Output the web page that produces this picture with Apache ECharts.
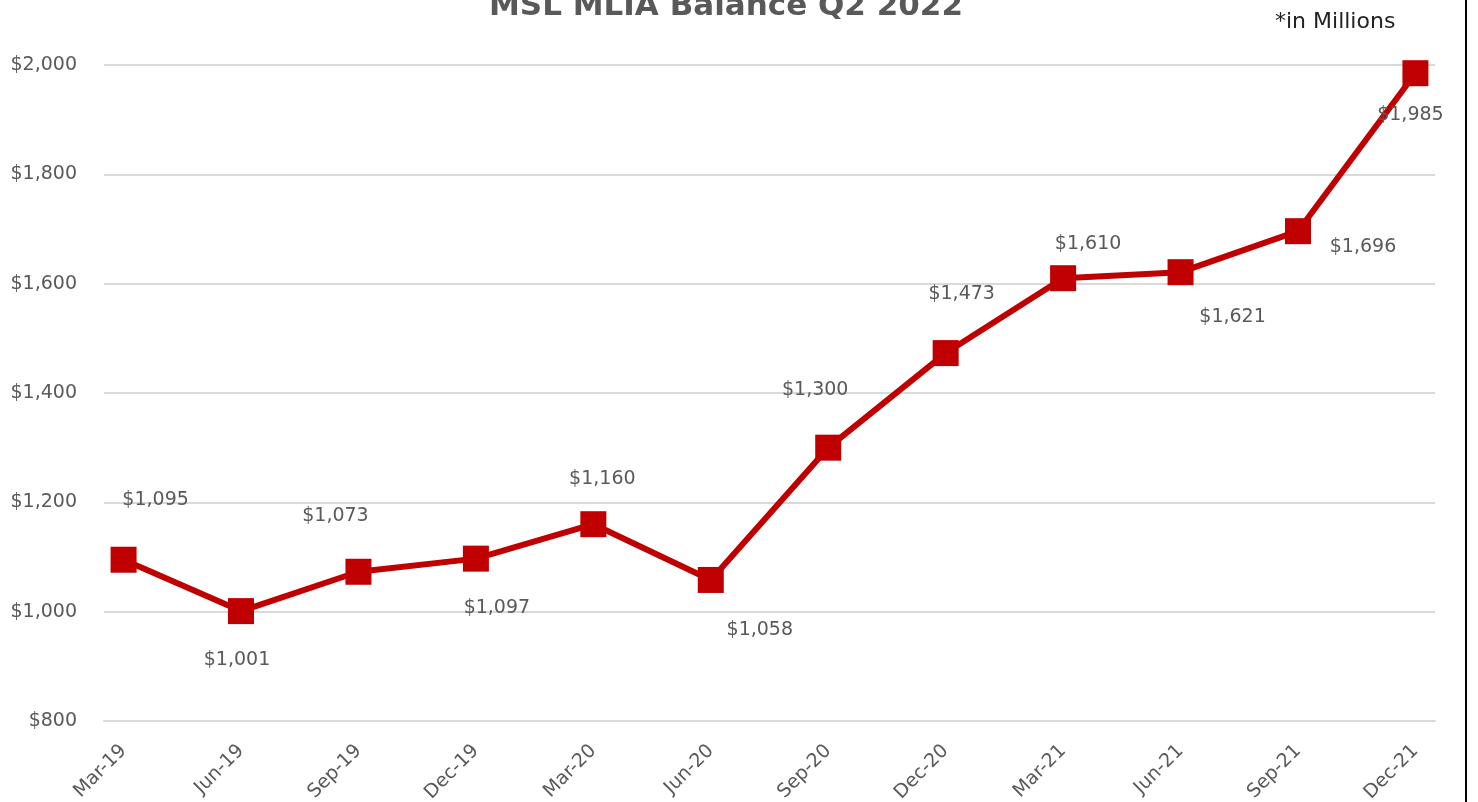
<!DOCTYPE html>
<html>
<head>
<meta charset="utf-8">
<title>MSL MLIA Balance Q2 2022</title>
<script src="https://cdn.jsdelivr.net/npm/echarts@6/dist/echarts.min.js"></script>
<style>
    html, body { margin: 0; padding: 0; background: #fff; }
    #chart { width: 1478px; height: 802px; }
</style>
</head>
<body>
<div id="chart"></div>
<script>
// ---- data (quarter end balances, $ millions)
const quarters = ['Mar-19', 'Jun-19', 'Sep-19', 'Dec-19', 'Mar-20', 'Jun-20',
    'Sep-20', 'Dec-20', 'Mar-21', 'Jun-21', 'Sep-21', 'Dec-21'];
const balance = [1095, 1001, 1073, 1097, 1160, 1058, 1300, 1473, 1610, 1621, 1696, 1985];
const yTicks = [800, 1000, 1200, 1400, 1600, 1800, 2000];

// label nudges (px from the marker), placed by hand like the excel chart
const labelShift = [[32, -60], [-4, 49], [-23, -56], [21, 49], [9, -45], [49, 50],
    [-13, -58], [16, -59], [25, -34], [52, 45], [65, 16], [-5, 42]];

// monthly axis: a quarter label every 3rd month, blanks between
let months = [];
quarters.forEach(function (q, i) {
    months.push(q);
    if (i < quarters.length - 1) {
        months.push('');
        months.push('');
    }
});

function money(v) {
    return '$' + Number(v).toLocaleString('en-US');
}

const gridBox = { left: 104, right: 43, top: 65, bottom: 81, outerBoundsMode: 'none' };
const grey = '#595959';
const font = 'DejaVu Sans';

var chart = echarts.init(document.getElementById('chart'));
option = {
    animation: false,
    title: [{
        text: 'MSL MLIA Balance Q2 2022',
        left: 484,
        top: -14,
        textStyle: { fontFamily: font, fontSize: 31, fontWeight: 'bold', color: grey }
    }, {
        text: '*in Millions',
        left: 1270,
        top: 6,
        textStyle: { fontFamily: font, fontSize: 22, fontWeight: 'normal', color: '#222' }
    }],
    grid: [
        Object.assign({}, gridBox),
        Object.assign({}, gridBox)
    ],
    xAxis: [{
        type: 'category',
        gridIndex: 0,
        data: months,
        boundaryGap: true,
        axisLine: { lineStyle: { color: '#d9d9d9', width: 2 } },
        axisTick: { interval: 0, inside: true, length: 4, lineStyle: { color: '#d9d9d9', width: 2 } },
        axisLabel: {
            interval: function (i) { return i % 3 === 0; },
            rotate: 45,
            margin: 27,
            color: grey,
            fontFamily: font,
            fontSize: 19
        },
        splitLine: { show: false }
    }, {
        // major ticks every quarter
        type: 'category',
        gridIndex: 1,
        data: months,
        boundaryGap: true,
        axisLine: { show: false },
        axisTick: {
            interval: function (i) { return i % 3 === 0; },
            inside: true, length: 9,
            lineStyle: { color: '#d9d9d9', width: 2 }
        },
        axisLabel: { show: false }
    }],
    yAxis: [{
        type: 'value',
        gridIndex: 0,
        min: yTicks[0],
        max: yTicks[yTicks.length - 1],
        interval: 200,
        axisLine: { show: false },
        axisTick: { show: false },
        axisLabel: {
            margin: 27,
            color: grey,
            fontFamily: font,
            fontSize: 19,
            formatter: money
        },
        splitLine: { lineStyle: { color: '#d9d9d9', width: 2 } }
    }, {
        type: 'value',
        gridIndex: 1,
        show: false,
        min: yTicks[0],
        max: yTicks[yTicks.length - 1]
    }],
    series: [{
        name: 'MLIA Balance',
        type: 'line',
        xAxisIndex: 0,
        yAxisIndex: 0,
        data: balance.map(function (v, i) {
            return { value: [i * 3, v], label: { offset: labelShift[i] } };
        }),
        symbol: 'rect',
        symbolSize: 26,
        lineStyle: { color: '#c00000', width: 6 },
        itemStyle: { color: '#c00000' },
        label: {
            show: true,
            position: 'inside',
            color: grey,
            fontFamily: font,
            fontSize: 19,
            formatter: function (p) { return money(p.value[1]); }
        },
        z: 3
    }],
    graphic: [{
        type: 'line',
        shape: { x1: 1466, y1: 0, x2: 1466, y2: 802 },
        style: { stroke: '#000', lineWidth: 2 }
    }]
};
chart.setOption(option);
</script>
</body>
</html>
